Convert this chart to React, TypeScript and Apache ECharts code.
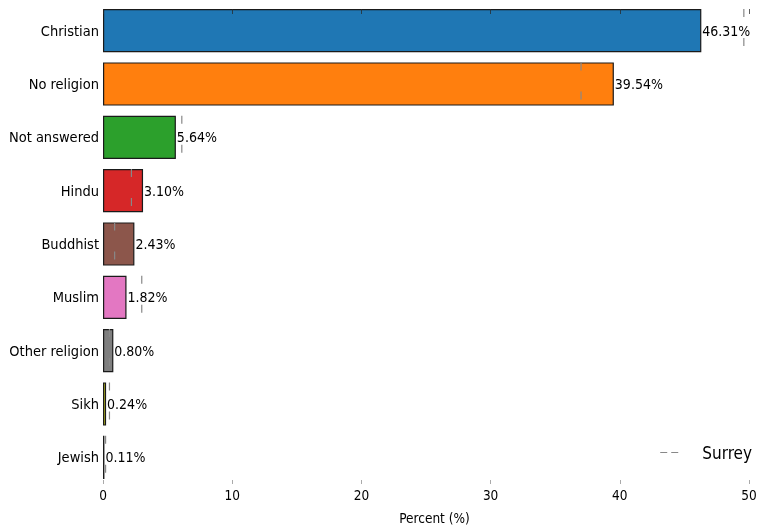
import React, { useEffect, useRef } from 'react'
import * as echarts from 'echarts'

const categories = ['Christian', 'No religion', 'Not answered', 'Hindu', 'Buddhist', 'Muslim', 'Other religion', 'Sikh', 'Jewish']
const localValues = [46.31, 39.54, 5.64, 3.10, 2.43, 1.82, 0.80, 0.24, 0.11]
const surreyValues = [49.6, 37.0, 6.1, 2.2, 0.9, 3.0, 0.5, 0.5, 0.2]
const barColors = ['#1f77b4', '#ff7f0e', '#2ca02c', '#d62728', '#8c564b', '#e377c2', '#7f7f7f', '#bcbd22', '#17becf']
const xTicks = [0, 10, 20, 30, 40, 50]

const font = '"DejaVu Sans Condensed", "DejaVu Sans", sans-serif'

const App: React.FC = () => {
  const chartRef = useRef<HTMLDivElement>(null)

  useEffect(() => {
    if (!chartRef.current) return
    const chart = echarts.init(chartRef.current, undefined, { renderer: 'svg' })

    const option: any = {
      animation: false,
      grid: { left: 103, right: 25, top: 4, height: 480 },
      legend: {
        data: [{ name: 'Surrey', icon: 'path://M0,0H7V1H0ZM11,0H18V1H11Z' }],
        right: 17,
        top: 439,
        itemWidth: 18,
        itemHeight: 1.5,
        textStyle: { fontFamily: font, fontSize: 17, color: '#000', padding: [0, 0, 0, 19] }
      },
      xAxis: [
        {
          type: 'value',
          min: xTicks[0],
          max: xTicks[xTicks.length - 1],
          interval: 10,
          name: 'Percent (%)',
          nameLocation: 'middle',
          nameGap: 27,
          nameTextStyle: { fontFamily: font, fontSize: 13.5, color: '#000', padding: [0, 0, 0, 17] },
          axisLine: { show: false },
          axisTick: { show: true, inside: true, length: 4, lineStyle: { color: '#aaa' } },
          axisLabel: { fontFamily: font, fontSize: 13.5, color: '#000', margin: 4 },
          splitLine: { show: false }
        },
        {
          type: 'value',
          position: 'top',
          offset: -5,
          min: xTicks[0],
          max: xTicks[xTicks.length - 1],
          interval: 10,
          z: 10,
          axisLine: { show: false },
          axisTick: { show: true, inside: true, length: 5, lineStyle: { color: 'rgba(40,40,40,0.75)' } },
          axisLabel: { show: false },
          splitLine: { show: false }
        }
      ],
      yAxis: {
        type: 'category',
        data: categories,
        inverse: true,
        axisLine: { show: false },
        axisTick: { show: false },
        axisLabel: { fontFamily: font, fontSize: 14.5, color: '#000', margin: 4 }
      },
      series: [
        {
          type: 'bar',
          name: 'Local',
          data: localValues.map((v, i) => ({ value: v, itemStyle: { color: barColors[i] } })),
          barWidth: '81%',
          itemStyle: { borderColor: '#1a1a1a', borderWidth: 1.2 },
          label: {
            show: true,
            position: 'right',
            distance: 1,
            fontFamily: font,
            fontSize: 14,
            color: '#000',
            formatter: (p: any) => p.value.toFixed(2) + '%'
          }
        },
        {
          type: 'custom',
          name: 'Surrey',
          itemStyle: { color: '#888' },
          z: 5,
          data: surreyValues.map((v, i) => [v, i]),
          renderItem: (params: any, api: any) => {
            const pt = api.coord([api.value(0), api.value(1)])
            const band = api.size([0, 1])[1]
            const half = band * 0.405
            return {
              type: 'line',
              shape: { x1: pt[0], y1: pt[1] - half, x2: pt[0], y2: pt[1] + half },
              style: { stroke: '#888', lineWidth: 1.2, lineDash: [8, 21] }
            }
          }
        }
      ]
    }

    chart.setOption(option)
    return () => chart.dispose()
  }, [])

  return <div ref={chartRef} style={{ position: 'fixed', left: 0, top: 0, width: 774, height: 532 }} />
}

export default App
